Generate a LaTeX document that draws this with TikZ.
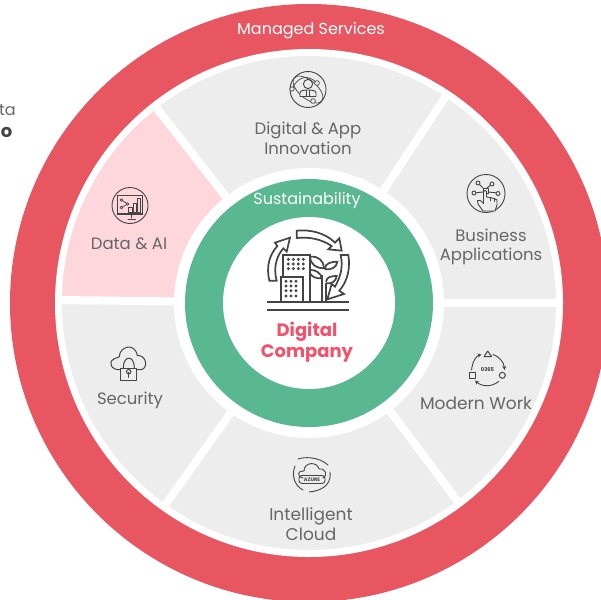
\documentclass[tikz,border=0pt]{standalone}
\usepackage{fontspec}
\usetikzlibrary{arrows.meta}
\setmainfont{Poppins}
\definecolor{ringred}{HTML}{E85661}
\definecolor{sectgray}{HTML}{EDEDED}
\definecolor{sectpink}{HTML}{FDD7DC}
\definecolor{ringgreen}{HTML}{59B891}
\definecolor{lbl}{HTML}{666666}
\definecolor{ink}{HTML}{444444}
\definecolor{brand}{HTML}{F4506A}
\tikzset{
  lab/.style={text=lbl,font=\fontsize{16.5}{19.5}\selectfont,align=center,inner sep=0pt},
  ringlab/.style={text=white,font=\fontsize{16}{20}\selectfont,inner sep=0pt},
  ico/.style={draw=ink,line width=0.9pt,line join=round,line cap=round},
  bigico/.style={draw=ink,line width=1.7pt,line join=miter},
  spoke/.style={draw=white,line width=8pt},
  tiny/.style={text=ink,font=\fontsize{5.2}{6}\selectfont\bfseries,inner sep=0pt}
}
\begin{document}
\begin{tikzpicture}[x=1pt,y=-1pt]
\useasboundingbox (0,0) rectangle (601,599);
\clip (0,0) rectangle (601,599);
\fill[white] (0,0) rectangle (601,599);
\coordinate (c) at (309,303);
% rings
\fill[ringred] (c) circle[radius=299pt];
\fill[white] (c) circle[radius=254pt];
\fill[sectgray] (c) circle[radius=247pt];
\begin{scope}
  \clip (c) circle[radius=247pt];
  \fill[sectpink] (c) -- (124,67) -- (9,67) -- (9,299) -- cycle;
\end{scope}
% spokes
\coordinate (s1) at (155,106);
\coordinate (s2) at (447,94.5);
\coordinate (s3) at (559,303);
\coordinate (s4) at (459,503);
\coordinate (s5) at (164,506.5);
\coordinate (s6) at (59,300);
\foreach \s in {s1,s2,s3,s4,s5,s6} \draw[spoke] (c) -- (\s);
\fill[white] (c) circle[radius=135pt];
\fill[ringgreen] (c) circle[radius=124pt];
\fill[white] (c) circle[radius=86pt];
% labels
\node[ringlab] (managed) at (311,30.5) {Managed Services};
\node[ringlab] (sustain) at (307,200.5) {Sustainability};
\node[lab] (digapp) at (308,138.5) {Digital \& App\\Innovation};
\node[lab] (bizapp) at (491,247) {Business\\Applications};
\node[lab,font=\fontsize{17}{20}\selectfont] (modern) at (476,403.5) {Modern Work};
\node[lab,font=\fontsize{17}{20}\selectfont] (cloud) at (311,524.5) {Intelligent\\Cloud};
\node[lab] (security) at (130,400.5) {Security};
\node[lab] (dataai) at (129,243.5) {Data \& AI};
\node[text=brand,font=\fontsize{18}{21.5}\selectfont\bfseries,align=center,inner sep=0pt] (company) at (307,342) {Digital\\Company};
\node[text=lbl,font=\fontsize{16}{20}\selectfont,anchor=east,inner sep=0pt] (frag1) at (16,110) {ta};
\node[text=ink,font=\fontsize{18}{20}\selectfont\bfseries,anchor=east,inner sep=0pt] (frag2) at (12.5,132) {o};

% central icon (coordinates of a 3x view)
\begin{scope}[shift={(220,210)},x=0.3333pt,y=-0.3333pt]
  \draw[bigico] (142,275) -- (388,275);
  \draw[bigico] (142,300) -- (388,300);
  \draw[bigico] (190,200) -- (190,135) -- (270,135) -- (270,275);
  \draw[bigico] (182,272) -- (182,200) -- (248,200) -- (248,272);
  \draw[bigico] (305,195) -- (305,272);
  \draw[bigico] (270,140) .. controls (295,138) and (310,150) .. (312,175) .. controls (290,175) and (272,165) .. (270,140);
  \draw[bigico] (315,175) .. controls (315,160) and (335,155) .. (352,155) .. controls (350,172) and (335,180) .. (315,178);
  \draw[bigico] (270,180) .. controls (285,178) and (305,190) .. (305,205) .. controls (290,207) and (275,200) .. (270,190);
  \draw[bigico] (318,215) .. controls (320,200) and (335,198) .. (350,198) .. controls (348,215) and (335,222) .. (318,220);
  \draw[bigico] (318,220) -- (318,272);
  \foreach \x in {205,220,235,250} \foreach \y in {148,162,176}
    \fill[ink] (\x,\y) circle[radius=1.6pt];
  \foreach \x in {198,213,228} \foreach \y in {214,228,242,258}
    \fill[ink] (\x,\y) circle[radius=1.6pt];
  % arrows
  \draw[bigico] (230,62) .. controls (270,58) and (315,68) .. (345,98) -- (358,85) -- (365,122) -- (325,118) -- (335,108) .. controls (305,88) and (270,80) .. (230,84) -- cycle;
  \draw[bigico] (362,135) -- (385,135) .. controls (392,175) and (382,215) .. (358,242) -- (372,252) -- (322,268) -- (335,222) -- (345,230) .. controls (362,200) and (370,170) .. (362,135) -- cycle;
  \draw[bigico] (148,212) .. controls (138,170) and (148,135) .. (172,108) -- (165,98) -- (210,83) -- (200,125) -- (190,115) .. controls (168,140) and (160,175) .. (170,212) -- cycle;
\end{scope}

% Digital & App icon: globe and person
\draw[ico] (308,89.5) circle[radius=18pt];
\draw[ico,line width=0.7pt,rotate around={-40:(308,89.5)}] (308,89.5) ellipse[x radius=18pt,y radius=9pt];
\draw[ico,line width=0.7pt] (292,89) .. controls (298,76) and (308,74) .. (317,83);
\draw[ico,fill=sectgray] (300,96.5) -- (300,93) .. controls (300,90.5) and (304,90) .. (308,90) .. controls (312,90) and (316,90.5) .. (316,93) -- (316,96.5) -- cycle;
\draw[ico,fill=sectgray] (308,84) circle[radius=4.6pt];
\draw[ico,line width=0.6pt] (306.5,90.5) -- (306.5,96.5) (309.5,90.5) -- (309.5,96.5);
\draw[ico,line width=0.7pt,fill=sectgray] (317,83) circle[radius=2.4pt] (313,101) circle[radius=2.4pt] (292,89) circle[radius=2.2pt];

% Business Applications icon: hand and network
\draw[ico] (486,193.5) circle[radius=19pt];
\draw[ico] (478,183) -- (483,188) (492,184) -- (487,188) (498,193) -- (488,192) (474,193) -- (483,192);
\draw[ico,fill=sectgray] (478,183) circle[radius=2pt] (492,184) circle[radius=2pt] (498,193.5) circle[radius=2pt] (474,193) circle[radius=2pt];
\draw[ico] (483,188) rectangle (488,193);
\draw[ico,fill=sectgray] (483.5,200) -- (483.5,191.5) .. controls (484,190) and (486,190) .. (486.5,191.5) -- (486.5,197) -- (490,197.5) -- (494,198.5) -- (497,200) -- (497,205) -- (495,211) -- (483,211) -- (478,204) -- (477.5,200.5) .. controls (479,199.5) and (481,200.5) .. (483.5,203.5) -- cycle;
\draw[ico,line width=0.6pt] (490,197.5) -- (490,201) (494,198.5) -- (494,201.5);

% Modern Work icon
\draw[ico,line width=1pt] (487.7,351) -- (484,356.7) -- (491.7,356.7) -- cycle;
\draw[ico,line width=1pt] (502.3,375.3) circle[radius=3pt];
\draw[ico,line width=1pt] (469.5,372.8) rectangle (475,378.3);
\draw[ico,-{Stealth[length=4pt,width=4pt]}] (471.5,370) .. controls (472.5,361.5) and (476,356) .. (481.5,354.5);
\draw[ico,-{Stealth[length=4pt,width=4pt]}] (493,354.5) .. controls (499,356.5) and (504,362) .. (504.5,370);
\draw[ico,-{Stealth[length=4pt,width=4pt]}] (498.5,381.5) .. controls (492,387) and (482,387) .. (475,380.5);
\node[tiny] (o365) at (487.5,370) {0365};

% Intelligent Cloud icon
\draw[ico] (298,459) .. controls (303,457) and (318,456) .. (328,465);
\draw[ico] (330,472) .. controls (331,480) and (328,490) .. (309,492);
\draw[ico] (303,490) .. controls (295,486) and (291,476) .. (295,466);
\draw[ico] (303,478) .. controls (296,476) and (298,470) .. (304,471) .. controls (304,462) and (317,461) .. (319,469) .. controls (326,468) and (328,476) .. (323,478);
\draw[ico,rounded corners=3pt] (299,475.5) rectangle (325,483.5);
\node[tiny,font=\fontsize{5}{6}\selectfont\bfseries] (azure) at (312,479.5) {AZURE};

% Security icon (3x view)
\begin{scope}[shift={(90,335)},x=0.3333pt,y=-0.3333pt]
  \draw[ico,line width=1pt] (90,104) .. controls (65,106) and (52,82) .. (72,72) .. controls (82,66) and (84,70) .. (88,65) .. controls (88,35) and (135,20) .. (142,62) .. controls (165,58) and (178,95) .. (155,104) -- (140,104);
  \draw[ico,line width=1pt] (92,100) rectangle (141,135);
  \draw[ico,line width=1pt] (100,98) .. controls (100,60) and (133,60) .. (133,98);
  \draw[ico,line width=1pt] (116,110) circle[radius=2.2pt];
  \draw[ico,line width=1pt] (116,112) -- (116,127);
\end{scope}

% Data & AI icon
\draw[ico] (130,205.5) circle[radius=18pt];
\draw[ico] (117.5,213.5) -- (117.5,195) -- (142.5,195) -- (142.5,213.5);
\fill[ink] (117,212.5) rectangle (143,215);
\draw[ico] (131.7,215) -- (131.7,218) (128,219) -- (135.5,219);
\draw[ico,line width=0.7pt] (121.5,200) -- (127.5,204) -- (121.5,207.5);
\draw[ico,line width=0.7pt,fill=sectpink] (121.5,200) circle[radius=1.3pt] (127.5,204) circle[radius=1.3pt] (121.5,207.5) circle[radius=1.3pt];
\draw[ico,line width=0.7pt,fill=sectpink] (128.5,212.5) rectangle (132,207);
\draw[ico,line width=0.7pt,fill=sectpink] (133,212.5) rectangle (136,203);
\draw[ico,line width=0.7pt,fill=sectpink] (137,212.5) rectangle (140.5,198.5);
\end{tikzpicture}
\end{document}
